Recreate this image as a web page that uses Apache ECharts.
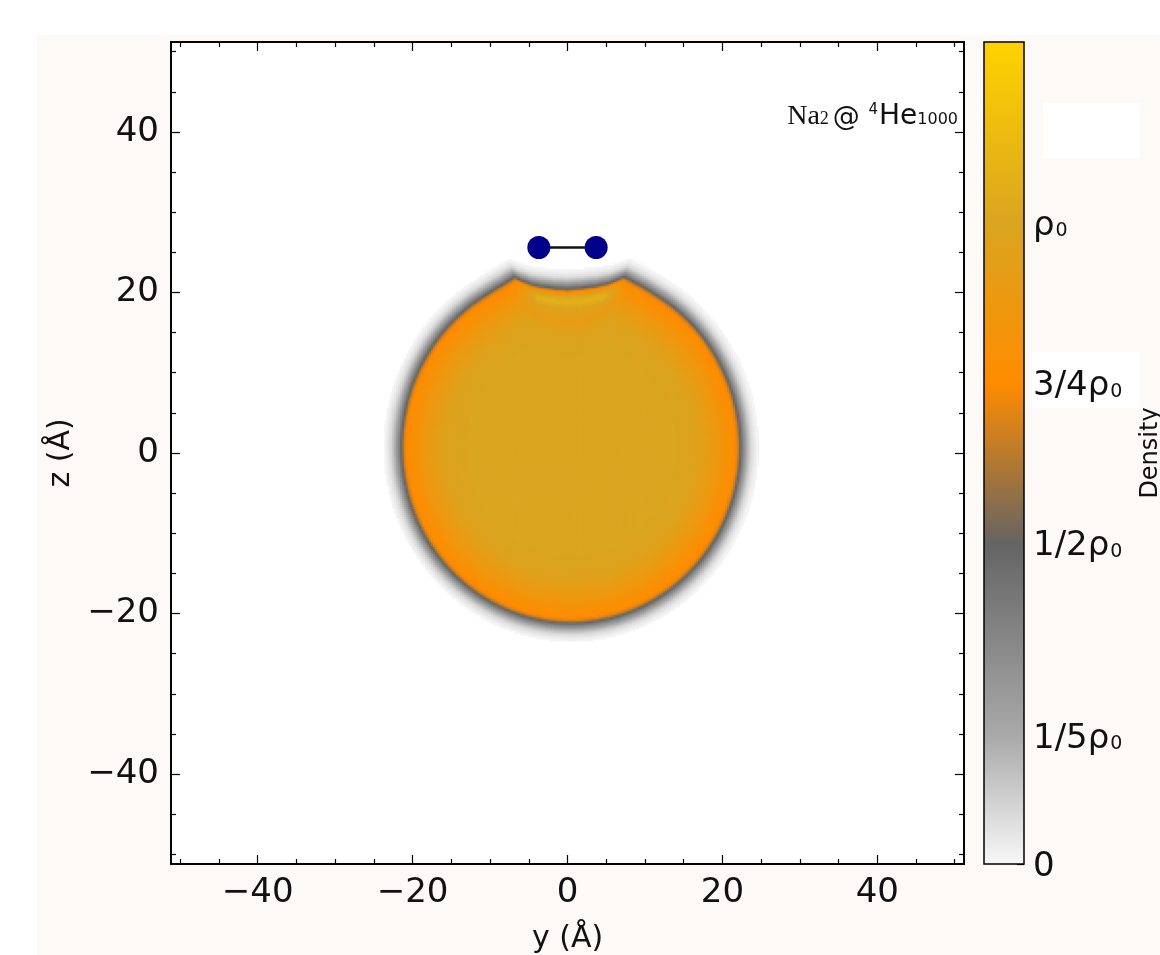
<!DOCTYPE html>
<html><head><meta charset="utf-8">
<script src="https://cdn.jsdelivr.net/npm/echarts@6/dist/echarts.min.js"></script>
<style>html,body{margin:0;padding:0;background:#fff}#c{width:1160px;height:955px}</style>
</head><body><div id="c"></div><script>
// ---- axes ----
const axisMin = -51.2, axisMax = 51.2;
const majorTicks = [-40, -20, 0, 20, 40];
const minorTicks = [-50, -45, -35, -30, -25, -15, -10, -5, 5, 10, 15, 25, 30, 35, 45, 50];

// ---- droplet outline: radius (Å) from centre vs polar angle (deg from +y towards +z) ----
const dropCenter = [0.45, 0.8];
const edgeAngles = [0, 30, 60, 68, 72, 74, 77, 81, 86, 91, 96, 101, 104, 107, 109, 113, 120, 150, 180, 210, 240, 270, 300, 330, 360];
const edgeRadii  = [21.75, 21.75, 21.8, 22.0, 22.2, 21.6, 20.8, 20.2, 19.8, 19.6, 19.8, 20.3, 20.8, 21.6, 22.3, 22.0, 21.8, 21.75, 21.75, 21.75, 21.75, 21.8, 21.75, 21.75, 21.75];

// ---- density across the surface: d = Å outside the edge, rho in units of rho0 ----
const profileDist = [-9, -6, -5, -4, -3, -2, -1, -0.5, -0.2, 0, 0.3, 0.6, 1.0, 1.5, 2.0, 2.5];
const profileRho  = [1.0, 0.98, 0.95, 0.91, 0.87, 0.82, 0.77, 0.74, 0.68, 0.56, 0.43, 0.31, 0.18, 0.08, 0.03, 0];

// ---- extra density layer under the Na2 dimple ----
const layerAngles = [70, 77, 103, 110];
const layerWeight = [0, 1, 1, 0];
const layerDist   = [-4.0, -2.5, -1.6, -1.0, -0.5, 0];
const layerRho    = [0, 0.12, 0.28, 0.25, 0.08, 0];

// ---- Na2 molecule ----
const naY = [-3.7, 3.7];
const naZ = [25.6, 25.6];

// ---- colour bar ----
const cbarMax = 1.282;
const cbarValues = [0, 0.2, 0.5, 0.75, 1.0];
const cbarLabels = ['0', '1/5', '1/2', '3/4', ''];
const cmapStops  = [0, 0.2, 0.5, 0.75, 1.0, 1.282];
const cmapColors = ['#f8f8f8', '#a9a9a9', '#646464', '#ff8c00', '#daa520', '#ffd200'];

function lerp(xs, ys, x) {
  if (x <= xs[0]) return ys[0];
  for (let i = 1; i < xs.length; i++) {
    if (x <= xs[i]) { const t = (x - xs[i-1]) / (xs[i] - xs[i-1]); return ys[i-1] + t * (ys[i] - ys[i-1]); }
  }
  return ys[ys.length - 1];
}
const cmapRgb = cmapColors.map(h => [parseInt(h.substr(1,2),16), parseInt(h.substr(3,2),16), parseInt(h.substr(5,2),16)]);
function cmap(v) {
  v = Math.max(cmapStops[0], Math.min(cmapStops[cmapStops.length-1], v));
  let i = 1; while (i < cmapStops.length - 1 && v > cmapStops[i]) i++;
  const t = (v - cmapStops[i-1]) / (cmapStops[i] - cmapStops[i-1]);
  const a = cmapRgb[i-1], b = cmapRgb[i];
  return 'rgb(' + [0,1,2].map(k => Math.round(a[k] + t * (b[k] - a[k]))).join(',') + ')';
}

// density cells built from outline + profile tables
const cellStep = 0.25;
const cells = [];
for (let y = -28; y <= 28; y += cellStep) {
  for (let z = -28; z <= 30; z += cellStep) {
    const dy = y - dropCenter[0], dz = z - dropCenter[1];
    const r = Math.hypot(dy, dz);
    let th = Math.atan2(dz, dy) * 180 / Math.PI; if (th < 0) th += 360;
    const d = r - lerp(edgeAngles, edgeRadii, th);
    let rho = lerp(profileDist, profileRho, d);
    const w = (th >= layerAngles[0] && th <= layerAngles[layerAngles.length - 1]) ? lerp(layerAngles, layerWeight, th) : 0;
    if (w > 0) rho += w * lerp(layerDist, layerRho, d);
    if (rho > 0.004) cells.push([y, z, rho]);
  }
}

const FONT = 'DejaVu Sans';
const minusFmt = v => (v < 0 ? '\u2212' + Math.abs(v) : String(v));
const black = '#000';

function xAx(pos, ticks, len, labels, extra) {
  return Object.assign({
    type: 'value', gridIndex: 0, position: pos, min: axisMin, max: axisMax,
    axisLine: { show: true, onZero: false, lineStyle: { color: black, width: 1.5 } },
    axisTick: { show: true, inside: true, length: len, customValues: ticks, lineStyle: { color: black, width: 1.2 } },
    axisLabel: labels ? { show: true, customValues: ticks, formatter: minusFmt, fontFamily: FONT, fontSize: 34, color: '#111', margin: 12 } : { show: false },
    splitLine: { show: false }
  }, extra || {});
}

const chart = echarts.init(document.getElementById('c'), null, { renderer: 'canvas' });
chart.setOption({
  animation: false,
  backgroundColor: '#ffffff',
  grid: [
    { left: 171, top: 42, width: 793, height: 822, containLabel: false, outerBoundsMode: 'none', show: true, backgroundColor: '#ffffff', borderColor: black, borderWidth: 1.5 },
    { left: 984, top: 42, width: 40, height: 822, containLabel: false, outerBoundsMode: 'none', show: false }
  ],
  xAxis: [
    xAx('bottom', majorTicks, 9, true, { name: 'y (Å)', nameLocation: 'middle', nameGap: 60, nameTextStyle: { fontFamily: FONT, fontSize: 30, color: '#111' } }),
    xAx('bottom', minorTicks, 5, false),
    xAx('top', majorTicks, 9, false),
    xAx('top', minorTicks, 5, false),
    { type: 'value', gridIndex: 1, min: 0, max: 1, show: false }
  ],
  yAxis: [
    xAx('left', majorTicks, 9, true, { name: 'z (Å)', nameLocation: 'middle', nameGap: 90, nameTextStyle: { fontFamily: FONT, fontSize: 30, color: '#111' } }),
    xAx('left', minorTicks, 5, false),
    xAx('right', majorTicks, 9, false),
    xAx('right', minorTicks, 5, false),
    {
      type: 'value', gridIndex: 1, position: 'right', min: 0, max: cbarMax,
      axisLine: { show: false, onZero: false },
      axisTick: { show: true, inside: true, length: 7, customValues: cbarValues, lineStyle: { color: black, width: 1.2 } },
      axisLabel: {
        show: true, customValues: cbarValues, margin: 9,
        formatter: function (v) {
          const i = cbarValues.indexOf(v);
          if (v === 0) return '{a|0}';
          return '{a|' + (i >= 0 ? cbarLabels[i] : '') + 'ρ}{s|0}';
        },
        rich: {
          a: { fontFamily: FONT, fontSize: 34, color: '#111', verticalAlign: 'bottom', lineHeight: 40 },
          s: { fontFamily: FONT, fontSize: 19, color: '#111', verticalAlign: 'bottom', lineHeight: 40, padding: [0, 0, 2, 1] }
        }
      },
      splitLine: { show: false }
    }
  ],
  graphic: [
    { type: 'rect', z: -5, shape: { x: 37, y: 35, width: 1123, height: 920 }, style: { fill: '#fdf9f6' } },
    { type: 'rect', z: -4, shape: { x: 1043, y: 103, width: 97, height: 55 }, style: { fill: '#ffffff' } },
    { type: 'rect', z: -4, shape: { x: 1032, y: 352, width: 108, height: 56 }, style: { fill: '#ffffff' } },
    { type: 'text', z: 10, rotation: Math.PI / 2, x: 1151, y: 453,
      style: { text: 'Density', fontFamily: FONT, fontSize: 24, fill: '#111', align: 'center', verticalAlign: 'middle' } },
    { type: 'text', z: 10, x: 958, y: 131,
      style: {
        text: '{n|Na}{ns|2}{at|@ }{sup|4}{he|He}{sub|1000}', align: 'right', verticalAlign: 'bottom',
        rich: {
          n:  { fontFamily: 'Liberation Serif', fontSize: 28, fill: '#111', verticalAlign: 'bottom', lineHeight: 32 },
          ns: { fontFamily: 'Liberation Serif', fontSize: 18, fill: '#111', verticalAlign: 'bottom', lineHeight: 32, padding: [0, 4, 3, 0] },
          at: { fontFamily: FONT, fontSize: 27, fill: '#111', verticalAlign: 'bottom', lineHeight: 32 },
          sup:{ fontFamily: FONT, fontSize: 15, fill: '#111', verticalAlign: 'top', lineHeight: 32, padding: [4, 1, 0, 0] },
          he: { fontFamily: FONT, fontSize: 28, fill: '#111', verticalAlign: 'bottom', lineHeight: 32 },
          sub:{ fontFamily: FONT, fontSize: 16, fill: '#111', verticalAlign: 'bottom', lineHeight: 32, padding: [0, 0, 3, 0] }
        }
      } }
  ],
  series: [
    {
      type: 'custom', name: 'density', xAxisIndex: 0, yAxisIndex: 0, silent: true,
      progressive: 0, progressiveThreshold: 10000000,
      data: cells, encode: { x: 0, y: 1 },
      renderItem: function (params, api) {
        const p = api.coord([api.value(0) - cellStep / 2, api.value(1) + cellStep / 2]);
        const s = api.size([cellStep, cellStep]);
        return { type: 'rect', shape: { x: p[0], y: p[1], width: s[0] + 0.8, height: s[1] + 0.8 }, style: { fill: cmap(api.value(2)) } };
      }
    },
    {
      type: 'custom', name: 'colorbar', xAxisIndex: 4, yAxisIndex: 4, silent: true,
      data: [[0, 0]],
      renderItem: function (params, api) {
        const p0 = api.coord([0, cbarMax]);
        const p1 = api.coord([1, 0]);
        return {
          type: 'rect', shape: { x: p0[0], y: p0[1], width: p1[0] - p0[0], height: p1[1] - p0[1] },
          style: {
            fill: new echarts.graphic.LinearGradient(0, 1, 0, 0, cmapStops.map((s, i) => ({ offset: s / cbarMax, color: cmapColors[i] }))),
            stroke: black, lineWidth: 1.5
          }
        };
      }
    },
    {
      type: 'line', name: 'Na2', xAxisIndex: 0, yAxisIndex: 0, z: 5,
      data: naY.map((y, i) => [y, naZ[i]]),
      symbol: 'circle', symbolSize: 23, showSymbol: true,
      itemStyle: { color: '#00008b' },
      lineStyle: { color: '#111', width: 2.5 }
    }
  ]
});
</script></body></html>
